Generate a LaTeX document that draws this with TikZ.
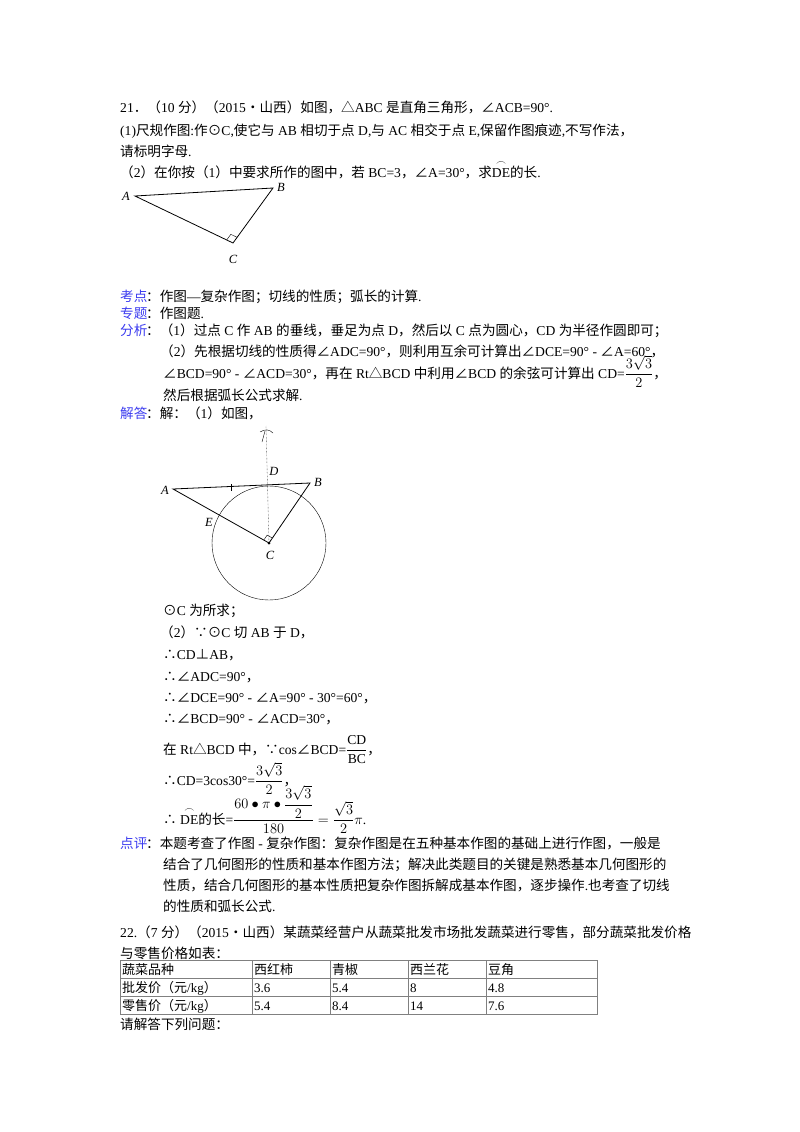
\documentclass[tikz,border=0pt]{standalone}
\usetikzlibrary{calc}
\usepackage{amsmath}
\usepackage{fontspec}
\setmainfont{Liberation Serif}
\newfontfamily\cjk{Noto Sans CJK SC}
\newfontfamily\latn{Liberation Serif}
\XeTeXinterchartokenstate=1
\newXeTeXintercharclass\cjkclass
\makeatletter
\count@="3000 \loop\ifnum\count@<"3040 \XeTeXcharclass\count@=\cjkclass \advance\count@ 1 \repeat
\count@="4E00 \loop\ifnum\count@<"A000 \XeTeXcharclass\count@=\cjkclass \advance\count@ 1 \repeat
\count@="FF00 \loop\ifnum\count@<"FFF0 \XeTeXcharclass\count@=\cjkclass \advance\count@ 1 \repeat
\makeatother
\XeTeXcharclass"2220=\cjkclass \XeTeXcharclass"25B3=\cjkclass \XeTeXcharclass"2235=\cjkclass
\XeTeXcharclass"2234=\cjkclass \XeTeXcharclass"22A5=\cjkclass \XeTeXcharclass"2299=\cjkclass
\XeTeXcharclass"2022=\cjkclass
\XeTeXinterchartoks 0 \cjkclass = {\cjk}
\XeTeXinterchartoks 4095 \cjkclass = {\cjk}
\XeTeXinterchartoks \cjkclass 0 = {\latn}
\XeTeXinterchartoks \cjkclass 4095 = {\latn}
\newcommand{\arcDE}{\ensuremath{\overset{\frown}{\text{\latn DE}}}}
\definecolor{lblue}{RGB}{60,60,240}
\tikzset{txt/.style={anchor=base west, inner sep=0, font=\fontsize{13.6}{15}\selectfont},
 tab/.style={anchor=base west, inner sep=0, font=\fontsize{13}{15}\selectfont},
 lab/.style={inner sep=0, font=\itshape\fontsize{12.5}{14}\selectfont},
 lbl/.style={text=lblue}}
\begin{document}
\begin{tikzpicture}[x=1pt,y=-1pt]
\useasboundingbox (0,0) rectangle (800,1132);
\fill[white] (0,0) rectangle (800,1132);
\node[txt] (l1) at (120,112) {21．（10 分）（2015•山西）如图，△ABC 是直角三角形，∠ACB=90°.};
\node[txt] (l2) at (120,135) {(1)尺规作图:作⊙C,使它与 AB 相切于点 D,与 AC 相交于点 E,保留作图痕迹,不写作法，};
\node[txt] (l3) at (120,156) {请标明字母.};
\node[txt] (l4) at (120,177) {（2）在你按（1）中要求所作的图中，若 BC=3，∠A=30°，求\arcDE 的长.};
% triangle 1
\coordinate (A1) at (135,196); \coordinate (B1) at (273,188); \coordinate (C1) at (233,243);
\draw[thick] (A1) -- (B1) -- (C1) -- cycle;
\draw ($(C1)!7pt!(A1)$) -- ($(C1)!7pt!(A1)+(C1)!7pt!(B1)-(C1)$) -- ($(C1)!7pt!(B1)$);
\node[lab] (a1) at (126,196) {A};
\node[lab] (b1) at (281,187) {B};
\node[lab] (c1) at (233,259) {C};
% analysis
\node[txt,lbl] (kd) at (120,301) {考点};
\node[txt] (kd2) at (146,301) {：作图—复杂作图；切线的性质；弧长的计算.};
\node[txt,lbl] (zt) at (120,318) {专题};
\node[txt] (zt2) at (146,318) {：作图题.};
\node[txt,lbl] (fx) at (120,335) {分析};
\node[txt] (fx2) at (146,335) {：（1）过点 C 作 AB 的垂线，垂足为点 D，然后以 C 点为圆心，CD 为半径作圆即可；};
\node[txt] (fx3) at (160,356) {（2）先根据切线的性质得∠ADC=90°，则利用互余可计算出∠DCE=90° - ∠A=60°，};
\node[txt] (fx4) at (163,378) {∠BCD=90° - ∠ACD=30°，再在 Rt△BCD 中利用∠BCD 的余弦可计算出 CD=$\dfrac{3\sqrt{3}}{2}$，};
\node[txt] (fx5) at (163,400) {然后根据弧长公式求解.};
\node[txt,lbl] (jd) at (120,418) {解答};
\node[txt] (jd2) at (146,418) {：解：（1）如图，};
% figure 2
\coordinate (A) at (173,489); \coordinate (B) at (310,483); \coordinate (C) at (269,543);
\coordinate (D) at (267,484); \coordinate (T) at (266,426);
\draw (C) circle (57);
\draw[thick] (A) -- (B) -- (C) -- cycle;
\draw[densely dotted] (T) -- (C);
\draw (260,432) .. controls (265,429) and (269,429) .. (273,433);
\draw (265,431) -- (262,442);
\draw (231,484) -- (231,491);
\draw ($(C)!6pt!(A)$) -- ($(C)!6pt!(A)+(C)!6pt!(B)-(C)$) -- ($(C)!6pt!(B)$);
\fill (C) circle (1.5);
\node[lab] (la) at (165,490) {A};
\node[lab] (lb) at (318,482) {B};
\node[lab] (ld) at (274,471) {D};
\node[lab] (lc) at (270,555) {C};
\node[lab] (le) at (209,522) {E};
\node[txt] (s1) at (163,615) {⊙C 为所求；};
\node[txt] (s2) at (160,637) {（2）∵⊙C 切 AB 于 D，};
\node[txt] (s3) at (163,659) {∴CD⊥AB，};
\node[txt] (s4) at (163,681) {∴∠ADC=90°，};
\node[txt] (s5) at (163,702) {∴∠DCE=90° - ∠A=90° - 30°=60°，};
\node[txt] (s6) at (163,723) {∴∠BCD=90° - ∠ACD=30°，};
\node[txt] (s7) at (163,754) {在 Rt△BCD 中，∵cos∠BCD=$\dfrac{\mathrm{CD}}{\mathrm{BC}}$，};
\node[txt] (s8) at (163,785) {∴CD=3cos30°=$\dfrac{3\sqrt{3}}{2}$，};
\node[txt] (s9) at (163,824) {∴ \arcDE 的长=$\dfrac{60\bullet\pi\bullet\dfrac{3\sqrt{3}}{2}}{180}=\dfrac{\sqrt{3}}{2}\pi$.};
\node[txt,lbl] (dp) at (120,848) {点评};
\node[txt] (dp2) at (146,848) {：本题考查了作图 - 复杂作图：复杂作图是在五种基本作图的基础上进行作图，一般是};
\node[txt] (dp3) at (163,869) {结合了几何图形的性质和基本作图方法；解决此类题目的关键是熟悉基本几何图形的};
\node[txt] (dp4) at (163,890) {性质，结合几何图形的基本性质把复杂作图拆解成基本作图，逐步操作.也考查了切线};
\node[txt] (dp5) at (163,911) {的性质和弧长公式.};
\node[txt] (q1) at (120,937) {22.（7 分）（2015•山西）某蔬菜经营户从蔬菜批发市场批发蔬菜进行零售，部分蔬菜批发价格};
\node[txt] (q2) at (120,958) {与零售价格如表：};
% table
\draw[gray] (120,960) rectangle (597,1014);
\draw[gray] (120,978) -- (597,978) (120,996) -- (597,996);
\foreach \x in {252,330,408,486} \draw[gray] (\x,960) -- (\x,1014);
\node[tab] (t11) at (122,974) {蔬菜品种};
\node[tab] (t12) at (254,974) {西红柿};
\node[tab] (t13) at (332,974) {青椒};
\node[tab] (t14) at (410,974) {西兰花};
\node[tab] (t15) at (488,974) {豆角};
\node[tab] (t21) at (122,992) {批发价（元/kg）};
\node[tab] (t22) at (254,992) {3.6};
\node[tab] (t23) at (332,992) {5.4};
\node[tab] (t24) at (410,992) {8};
\node[tab] (t25) at (488,992) {4.8};
\node[tab] (t31) at (122,1010) {零售价（元/kg）};
\node[tab] (t32) at (254,1010) {5.4};
\node[tab] (t33) at (332,1010) {8.4};
\node[tab] (t34) at (410,1010) {14};
\node[tab] (t35) at (488,1010) {7.6};
\node[txt] (q3) at (120,1029) {请解答下列问题：};
\end{tikzpicture}
\end{document}
